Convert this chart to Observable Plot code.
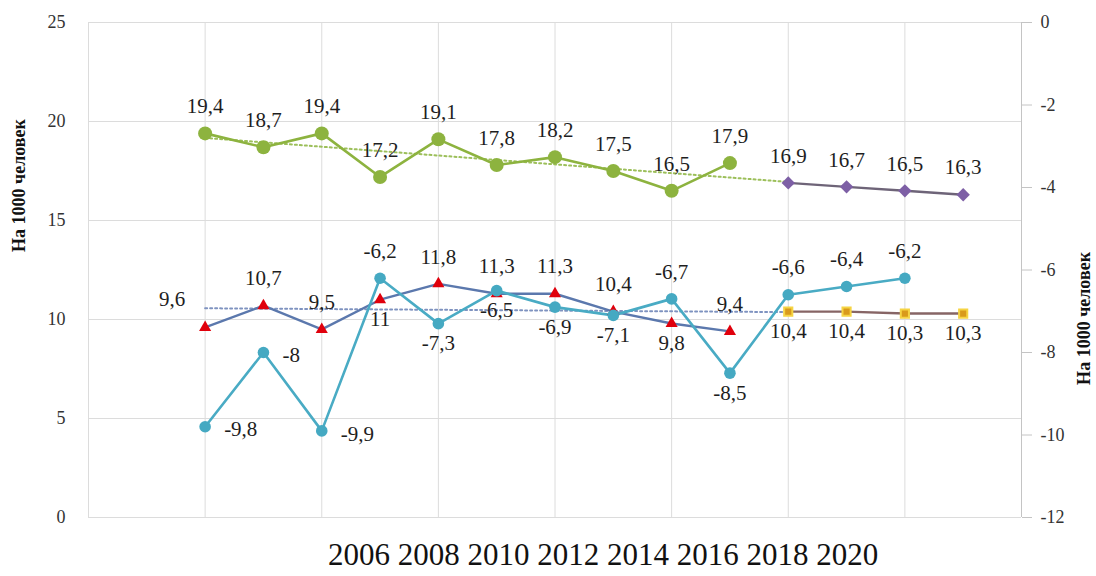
<!DOCTYPE html>
<html><head><meta charset="utf-8">
<script src="https://cdn.jsdelivr.net/npm/d3@7"></script>
<script src="https://cdn.jsdelivr.net/npm/@observablehq/plot@0.6"></script>
<style>
body{margin:0;background:#fff;font-family:"Liberation Serif","Times New Roman",Times,"DejaVu Serif",serif;}
#caption{font-size:31px;color:#111;margin-left:328px;line-height:34px;margin-top:3px;white-space:nowrap;}
svg text{font-family:"Liberation Serif","Times New Roman",Times,"DejaVu Serif",serif;}
</style></head><body><div id="chart"></div><div id="caption"></div>
<script>
// ---- data ----
const years = [2006,2007,2008,2009,2010,2011,2012,2013,2014,2015,2016,2017,2018,2019];
const birthRate = [19.4,18.7,19.4,17.2,19.1,17.8,18.2,17.5,16.5,17.9];      // 2006-2015
const birthForecast = [16.9,16.7,16.5,16.3];                               // 2016-2019
const deathRate = [9.6,10.7,9.5,11,11.8,11.3,11.3,10.4,9.8,9.4];          // 2006-2015
const deathForecast = [10.4,10.4,10.3,10.3];                               // 2016-2019
const migration = [-9.8,-8,-9.9,-6.2,-7.3,-6.5,-6.9,-7.1,-6.7,-8.5,-6.6,-6.4,-6.2]; // 2006-2018, right axis
const leftTicks = [0,5,10,15,20,25];
const rightTicks = [0,-2,-4,-6,-8,-10,-12];
const gridYears = [2004,2006,2008,2010,2012,2014,2016,2018,2020];
const captionYears = [2006,2008,2010,2012,2014,2016,2018,2020];
const axisTitle = "На 1000 человек";
// label placement (a = above, b = below, r = right, ul = upper left)
const deathLabelPos = ["ul","a","a","b","a","a","a","a","b","a"];
const migrationLabelPos = ["r","r","r","a","b","b","b","b","a","b","a","a","a"];

// ---- helpers ----
const FONT = '"Liberation Serif","Times New Roman",Times,"DejaVu Serif",serif';
const fmt = v => String(v).replace(".", ",");
const toLeft = v => (v + 12) * 25 / 12;          // right axis (-12..0) -> left axis (0..25)
const fromLeft = v => Math.round(v * 12 / 25 - 12);

const nb = birthRate.length;
const birthData = birthRate.map((v,i)=>({year:years[i], v}));
const birthFData = birthForecast.map((v,i)=>({year:years[nb+i], v}));
const deathData = deathRate.map((v,i)=>({year:years[i], v, pos:deathLabelPos[i]}));
const deathFData = deathForecast.map((v,i)=>({year:years[nb+i], v, pos:"b"}));
const migData = migration.map((v,i)=>({year:years[i], v, y:toLeft(v), pos:migrationLabelPos[i]}));

function trend(vals){
  const n = vals.length, xm = (n-1)/2, ym = d3.mean(vals);
  let sxy=0, sxx=0;
  vals.forEach((v,i)=>{sxy+=(i-xm)*(v-ym); sxx+=(i-xm)*(i-xm);});
  const s = sxy/sxx, b = ym - s*xm;
  return [{year:years[0], v:b}, {year:years[n], v:b + s*n}];
}
const birthTrend = trend(birthRate);
const deathTrend = trend(deathRate);

const offs = {a:{dy:-27}, b:{dy:20}, r:{dx:19, dy:3, textAnchor:"start"}, ul:{dx:-33, dy:-28}};
function labelMarks(data, yKey){
  return Object.keys(offs).map(p => Plot.text(data, {
    filter: d => (d.pos || "a") === p, x:"year", y:yKey, text: d => fmt(d.v),
    fontSize:21, fontFamily:FONT, fill:"#1e1e1e", ...offs[p]}));
}

const chart = Plot.plot({
  width:1096, height:535,
  marginLeft:88, marginRight:75, marginTop:22, marginBottom:18,
  style:{fontFamily:FONT, fontSize:"18px", color:"#222", background:"#fff"},
  x:{domain:[2004,2020], axis:null},
  y:{domain:[0,25], axis:null},
  marks:[
    Plot.gridY({ticks:leftTicks, stroke:"#dcdcdc", strokeOpacity:1}),
    Plot.gridX({ticks:gridYears, stroke:"#dcdcdc", strokeOpacity:1}),
    Plot.ruleX([2020], {stroke:"#c4c4c4"}),
    Plot.axisY({anchor:"left", ticks:leftTicks, tickSize:0, tickPadding:23, label:null, fill:"#333", fontFamily:FONT, fontSize:18}),
    Plot.axisY({anchor:"right", ticks:rightTicks.map(toLeft), tickFormat:d=>fmt(fromLeft(d)), tickSize:10, tickPadding:9, stroke:"#c4c4c4", fill:"#333", label:null, fontFamily:FONT, fontSize:18}),
    Plot.text([axisTitle], {frameAnchor:"left", dx:-69, dy:-18, rotate:-90, fontWeight:"bold", fontSize:18, fontFamily:FONT, fill:"#111"}),
    Plot.text([axisTitle], {frameAnchor:"right", dx:63, dy:-18, rotate:-90, fontWeight:"bold", fontSize:18, fontFamily:FONT, fill:"#111"}),
    // trend lines
    Plot.line(birthTrend, {x:"year", y:"v", stroke:"#9cbf5a", strokeWidth:2, strokeDasharray:"2,3"}),
    Plot.line(deathTrend, {x:"year", y:"v", stroke:"#7f93c0", strokeWidth:2, strokeDasharray:"2,3"}),
    // lines
    Plot.line(birthData, {x:"year", y:"v", stroke:"#8db33f", strokeWidth:2.6}),
    Plot.line(birthFData, {x:"year", y:"v", stroke:"#6e6478", strokeWidth:2.4}),
    Plot.line(deathData, {x:"year", y:"v", stroke:"#5b78ad", strokeWidth:2.4}),
    Plot.line(deathFData, {x:"year", y:"v", stroke:"#876565", strokeWidth:2.4}),
    Plot.line(migData, {x:"year", y:"y", stroke:"#49abc4", strokeWidth:2.6}),
    // markers
    Plot.dot(birthData, {x:"year", y:"v", r:7, fill:"#8db33f", stroke:"none"}),
    Plot.dot(birthFData, {x:"year", y:"v", r:6, symbol:"diamond2", fill:"#7d5fa5", stroke:"none"}),
    Plot.dot(deathData, {x:"year", y:"v", r:4.5, symbol:"triangle", fill:"#e0000c", stroke:"none"}),
    Plot.dot(deathFData, {x:"year", y:"v", r:4.6, symbol:"square", fill:"#d99a1c", stroke:"#f6d443", strokeWidth:2}),
    Plot.dot(migData, {x:"year", y:"y", r:5.8, fill:"#45a9c2", stroke:"none"}),
    // labels
    ...labelMarks(birthData, "v"),
    ...labelMarks(birthFData, "v"),
    ...labelMarks(deathData, "v"),
    ...labelMarks(deathFData, "v"),
    ...labelMarks(migData, "y")
  ]
});
document.getElementById("chart").appendChild(chart);
document.getElementById("caption").textContent = captionYears.join(" ");
</script></body></html>
